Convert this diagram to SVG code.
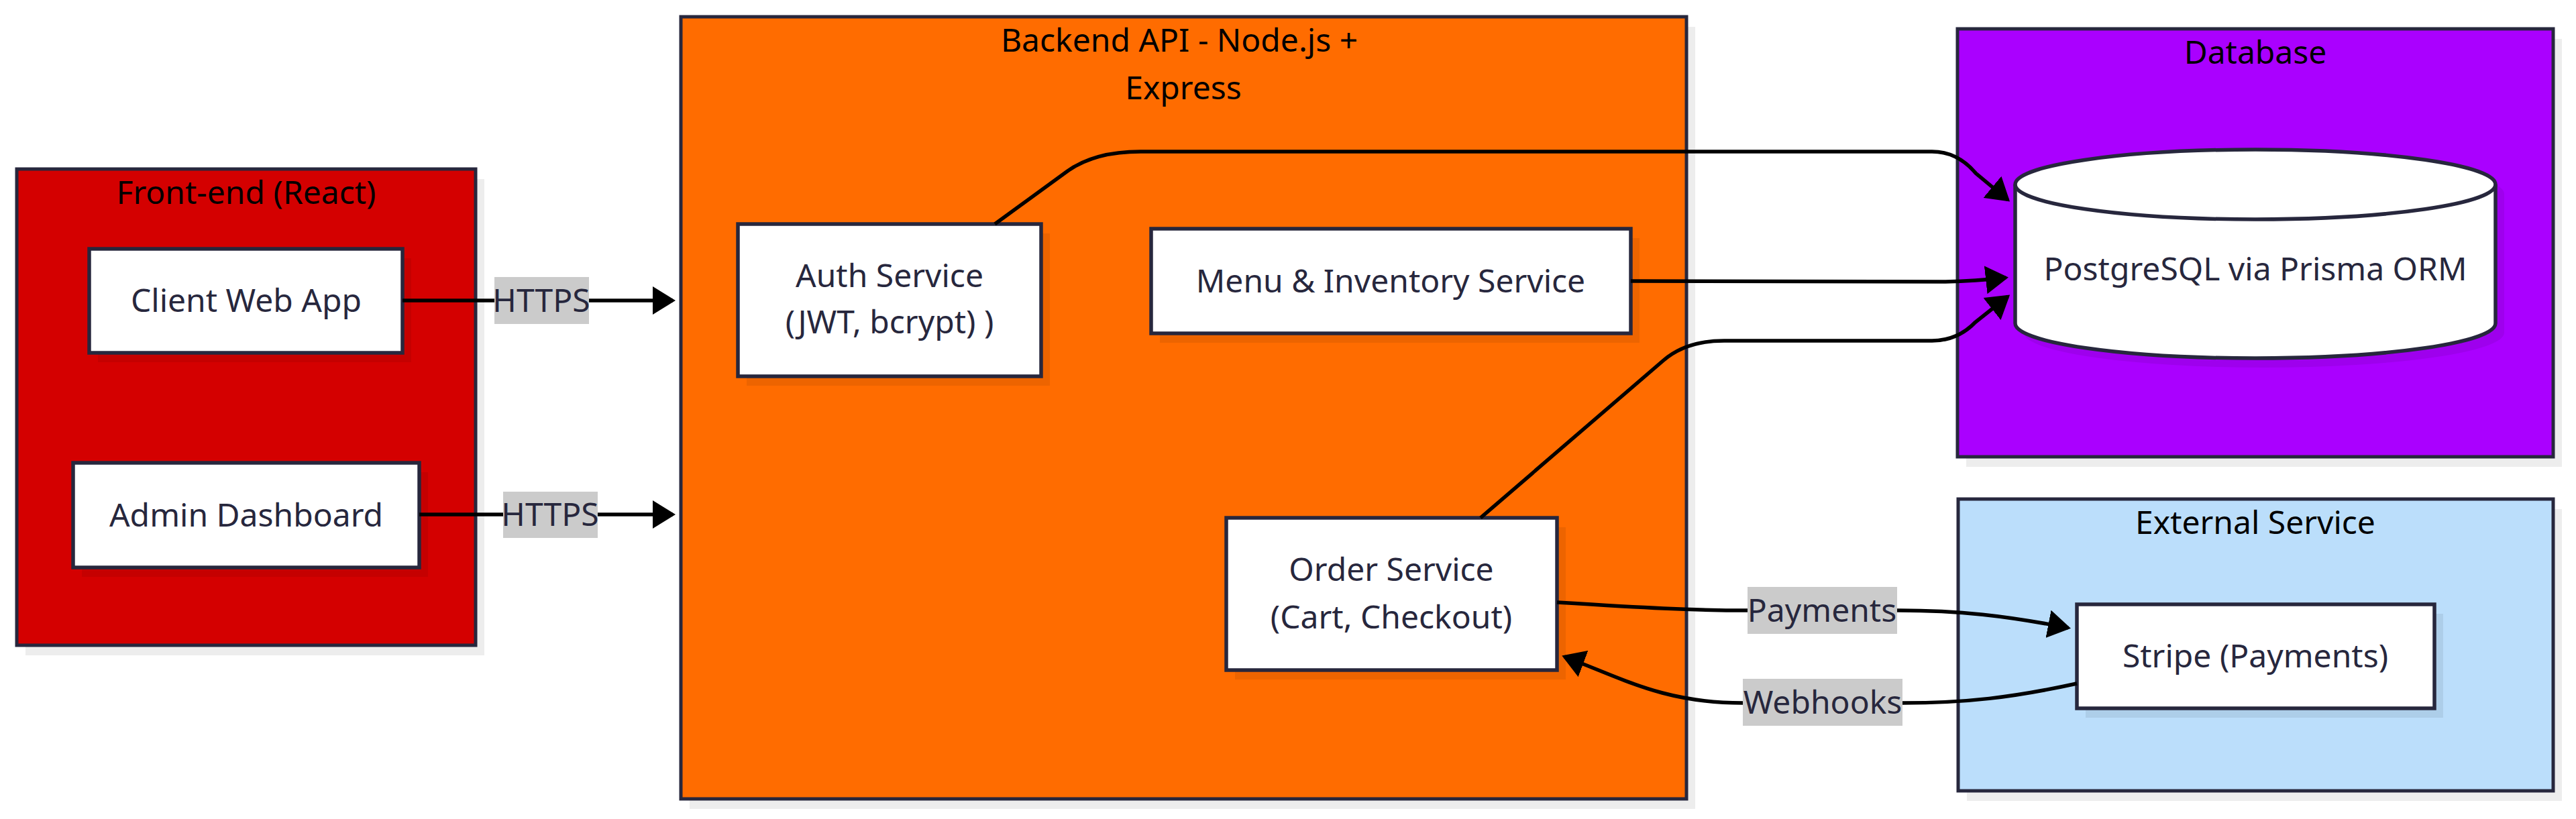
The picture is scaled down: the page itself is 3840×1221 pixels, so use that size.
<svg xmlns="http://www.w3.org/2000/svg" width="3840" height="1221" viewBox="0 0 3840 1221">
<style>
text{font-family:"Noto Sans","Liberation Sans",sans-serif;font-size:48px;text-anchor:middle}
.title{fill:#000}
.ntext{fill:#27273d}
.cluster{stroke:#27273d;stroke-width:5}
.node{fill:#fff;stroke:#27273d;stroke-width:5.5}
.shadow{fill:#000;fill-opacity:0.07}
.edge{fill:none;stroke:#000;stroke-width:5.5;marker-end:url(#arrow)}
.lbl{fill:#cbcbcb}
</style>
<defs>
<marker id="arrow" markerUnits="userSpaceOnUse" viewBox="0 0 34 42" markerWidth="34" markerHeight="42" refX="30" refY="21" orient="auto">
<path d="M0 0 L34 21 L0 42 Z" fill="#000"/>
</marker>
</defs>
<rect width="3840" height="1221" fill="#fff"/>

<g id="cluster-frontend">
<rect class="shadow" x="38" y="267" width="684" height="710"/>
<rect class="cluster" x="25" y="252" width="684" height="710" fill="#d40000"/>
<text class="title" x="367" y="304">Front-end (React)</text>
</g>
<g id="cluster-backend">
<rect class="shadow" x="1028" y="40" width="1499" height="1166"/>
<rect class="cluster" x="1015" y="25" width="1499" height="1166" fill="#ff6c00"/>
<text class="title" x="1758" y="77">Backend API - Node.js +</text>
<text class="title" x="1764" y="148">Express</text>
</g>
<g id="cluster-database">
<rect class="shadow" x="2931" y="58" width="888" height="638"/>
<rect class="cluster" x="2918" y="43" width="888" height="638" fill="#aa00ff"/>
<text class="title" x="3362" y="95">Database</text>
</g>
<g id="cluster-external">
<rect class="shadow" x="2932" y="759" width="887" height="435"/>
<rect class="cluster" x="2919" y="744" width="887" height="435" fill="#bbdefb"/>
<text class="title" x="3362" y="796">External Service</text>
</g>

<g id="node-client">
<rect class="shadow" x="146" y="385" width="467" height="155"/>
<rect class="node" x="133" y="371" width="467" height="155"/>
<text class="ntext" x="367" y="465">Client Web App</text>
</g>
<g id="node-admin">
<rect class="shadow" x="122" y="704" width="516" height="156"/>
<rect class="node" x="109" y="690" width="516" height="156"/>
<text class="ntext" x="367" y="785">Admin Dashboard</text>
</g>
<g id="node-auth">
<rect class="shadow" x="1113" y="348" width="452" height="227"/>
<rect class="node" x="1100" y="334" width="452" height="227"/>
<text class="ntext" x="1326" y="428">Auth Service</text>
<text class="ntext" x="1326" y="497">(JWT, bcrypt) )</text>
</g>
<g id="node-menu">
<rect class="shadow" x="1729" y="355" width="715" height="156"/>
<rect class="node" x="1716" y="341" width="715" height="156"/>
<text class="ntext" x="2073" y="436">Menu &amp; Inventory Service</text>
</g>
<g id="node-order">
<rect class="shadow" x="1841" y="786" width="493" height="227"/>
<rect class="node" x="1828" y="772" width="493" height="227"/>
<text class="ntext" x="2074" y="866">Order Service</text>
<text class="ntext" x="2074" y="937">(Cart, Checkout)</text>
</g>
<g id="node-db">
<path class="shadow" d="M3017 289 A358 52 0 0 1 3733 289 L3733 496 A358 52 0 0 1 3017 496 Z"/>
<path class="node" d="M3004 275 A358 52 0 0 1 3720 275 L3720 482 A358 52 0 0 1 3004 482 Z"/>
<path d="M3004 275 A358 52 0 0 0 3720 275" fill="none" stroke="#27273d" stroke-width="5.5"/>
<text class="ntext" x="3362" y="418">PostgreSQL via Prisma ORM</text>
</g>
<g id="node-stripe">
<rect class="shadow" x="3109" y="915" width="533" height="155"/>
<rect class="node" x="3096" y="901" width="533" height="155"/>
<text class="ntext" x="3362" y="995">Stripe (Payments)</text>
</g>

<g id="connectors">
<path class="edge" d="M600 448 L1003 448"/>
<path class="edge" d="M625 767 L1003 767"/>
<path class="edge" d="M1483 334 L1590 256 Q1631 226 1700 226 L2880 226 Q2918 226 2945 258 L2993 298"/>
<path class="edge" d="M2431 419 L2900 420 Q2945 419 2990 414"/>
<path class="edge" d="M2207 772 L2480 537 Q2514 508 2570 508 L2880 508 Q2918 508 2945 480 L2993 442"/>
<path class="edge" d="M2321 898 C2450 906 2520 910 2605 910 L2830 910 C2920 910 2990 918 3083 936"/>
<path class="edge" d="M3096 1019 C3000 1040 2930 1048 2836 1048 L2598 1048 C2480 1048 2420 1012 2332 979"/>
<rect class="lbl" x="737" y="413" width="141" height="70"/>
<text class="ntext" x="807" y="465">HTTPS</text>
<rect class="lbl" x="750" y="733" width="141" height="69"/>
<text class="ntext" x="820" y="784">HTTPS</text>
<rect class="lbl" x="2605" y="875" width="223" height="70"/>
<text class="ntext" x="2716" y="927">Payments</text>
<rect class="lbl" x="2598" y="1012" width="238" height="70"/>
<text class="ntext" x="2717" y="1064">Webhooks</text>
</g>
</svg>
